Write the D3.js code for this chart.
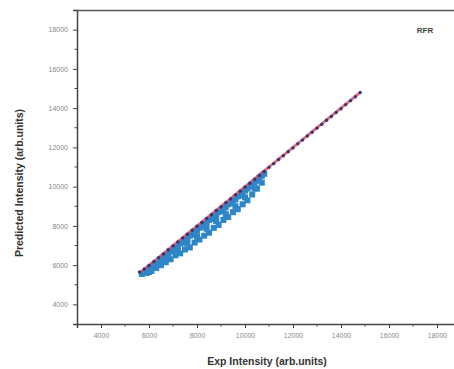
<!DOCTYPE html>
<html><head><meta charset="utf-8">
<script src="https://cdn.jsdelivr.net/npm/d3@7"></script>
<style>body{margin:0;background:#fff}</style>
</head><body>
<svg id="c" width="454" height="369"></svg>
<script>
const xTicks = [4000, 6000, 8000, 10000, 12000, 14000, 16000, 18000];
const yTicks = [4000, 6000, 8000, 10000, 12000, 14000, 16000, 18000];
// test points (blue), upper band
const testExpA = [5700,5800,5900,6000,6100,6200,6300,6400,6500,6600,6700,6800,6900,7000,7100,7200,7300,7400,7500,7600,7700,7800,7900,8000,8100,8200,8300,8400,8500,8600,8700,8800,8900,9000,9100,9200,9300,9400,9500,9600,9700,9800,9900,10000,10100,10200,10300,10400,10500,10600,10700,10800];
const testPredA = [5550,5600,5700,5800,5900,6000,6100,6150,6300,6350,6500,6550,6700,6750,6900,6950,7100,7150,7300,7350,7500,7550,7700,7750,7900,7950,8100,8150,8300,8350,8500,8550,8700,8750,8900,8950,9100,9150,9300,9350,9500,9550,9700,9800,9900,10000,10100,10200,10300,10450,10550,10650];
// test points (blue), lower jagged band
const testExpB = [5900,6100,6300,6500,6700,6900,7100,7300,7500,7700,7900,8100,8300,8500,8700,8900,9100,9300,9500,9700,9900,10100,10300,10500,10700,6000,6400,6800,7200,7600,8000,8400,8800,9200,9600,10000,10400];
const testPredB = [5600,5700,5850,6000,6150,6300,6500,6600,6800,6900,7150,7300,7500,7650,7900,8050,8300,8450,8700,8850,9100,9300,9600,9900,10200,5650,6000,6450,6750,7100,7450,7850,8250,8600,9000,9450,9900];
// train points (navy) along diagonal
const trainExp = [5600,5800,6000,6200,6400,6600,6800,7000,7200,7400,7600,7800,8000,8200,8400,8600,8800,9000,9200,9400,9600,9800,10000,10200,10400,10600,10800,11000,11200,11400,11600,11800,12000,12200,12400,12600,12800,13000,13200,13400,13600,13800,14000,14200,14400,14600,14800];
const trainPred = [5650,5800,5980,6180,6380,6570,6780,6980,7180,7380,7570,7780,7980,8170,8380,8570,8780,8970,9180,9370,9580,9770,9980,10170,10380,10570,10770,10980,11170,11380,11570,11780,11970,12180,12370,12580,12770,12980,13170,13380,13570,13780,13970,14180,14380,14580,14800];
const fitLine = [5600, 14800];
const panelLabel = "RFR";
const xTitle = "Exp Intensity (arb.units)";
const yTitle = "Predicted Intensity (arb.units)";

const svg = d3.select("#c");
const x = d3.scaleLinear().domain([3000, 19000]).range([77, 461]);
const y = d3.scaleLinear().domain([3000, 19000]).range([324, 10]);
const font = "Liberation Sans, Arial, sans-serif";

function pts(ex, pr, size, color){
  svg.append("g").selectAll("rect").data(ex.map((d,i)=>[d,pr[i]])).join("rect")
    .attr("x", d=>x(d[0])-size/2).attr("y", d=>y(d[1])-size/2)
    .attr("width",size).attr("height",size).attr("fill",color);
}
pts(testExpB, testPredB, 6, "#2f86c6");
pts(testExpA, testPredA, 6, "#2f86c6");

svg.append("line").attr("x1",x(fitLine[0])).attr("y1",y(fitLine[0])).attr("x2",x(fitLine[1])).attr("y2",y(fitLine[1]))
  .attr("stroke","#d24a6c").attr("stroke-width",2.8).attr("opacity",0.8);

svg.append("g").selectAll("circle").data(trainExp.map((d,i)=>[d,trainPred[i]])).join("circle")
  .attr("cx", d=>x(d[0])).attr("cy", d=>y(d[1])).attr("r",1.7).attr("fill","#2b2d6a").attr("opacity",0.9);

const xAxis = d3.axisBottom(x).tickValues(xTicks).tickSize(4).tickFormat(d3.format("d"));
const yAxis = d3.axisLeft(y).tickValues(yTicks).tickSize(4).tickFormat(d3.format("d"));
const gx = svg.append("g").attr("transform","translate(0,324)").call(xAxis);
const gy = svg.append("g").attr("transform","translate(77,0)").call(yAxis);
[gx, gy].forEach(g=>{
  g.select(".domain").attr("stroke","#444").attr("stroke-width",1.5);
  g.selectAll(".tick line").attr("stroke","#444").attr("stroke-width",1);
  g.selectAll(".tick text").attr("fill","#888").attr("font-size",7).attr("font-family",font);
});
gx.selectAll(".tick text").attr("dy","1.1em").attr("y",6);
gy.selectAll(".tick text").attr("x",-9);
const minorX = xTicks.map(d=>d+1000).filter(d=>d<19000);
gx.selectAll(".minor").data(minorX).join("line").attr("class","minor")
  .attr("x1",d=>x(d)).attr("x2",d=>x(d)).attr("y1",0).attr("y2",2.5).attr("stroke","#444");
const minorY = yTicks.map(d=>d+1000).filter(d=>d<19000);
gy.selectAll(".minor").data(minorY).join("line").attr("class","minor")
  .attr("y1",d=>y(d)).attr("y2",d=>y(d)).attr("x1",0).attr("x2",-2.5).attr("stroke","#444");
svg.append("line").attr("x1",77).attr("x2",454).attr("y1",10.5).attr("y2",10.5).attr("stroke","#555").attr("stroke-width",1.5);

svg.append("text").attr("x",267).attr("y",365).attr("text-anchor","middle")
  .attr("font-family",font).attr("font-weight","bold").attr("font-size",10.5).attr("fill","#333").text(xTitle);
svg.append("text").attr("transform","translate(23,183) rotate(-90)").attr("text-anchor","middle")
  .attr("font-family",font).attr("font-weight","bold").attr("font-size",10.5).attr("fill","#333").text(yTitle);
svg.append("text").attr("x",425).attr("y",33).attr("text-anchor","middle")
  .attr("font-family",font).attr("font-weight","bold").attr("font-size",8).attr("fill","#444").text(panelLabel);
</script>
</body></html>
